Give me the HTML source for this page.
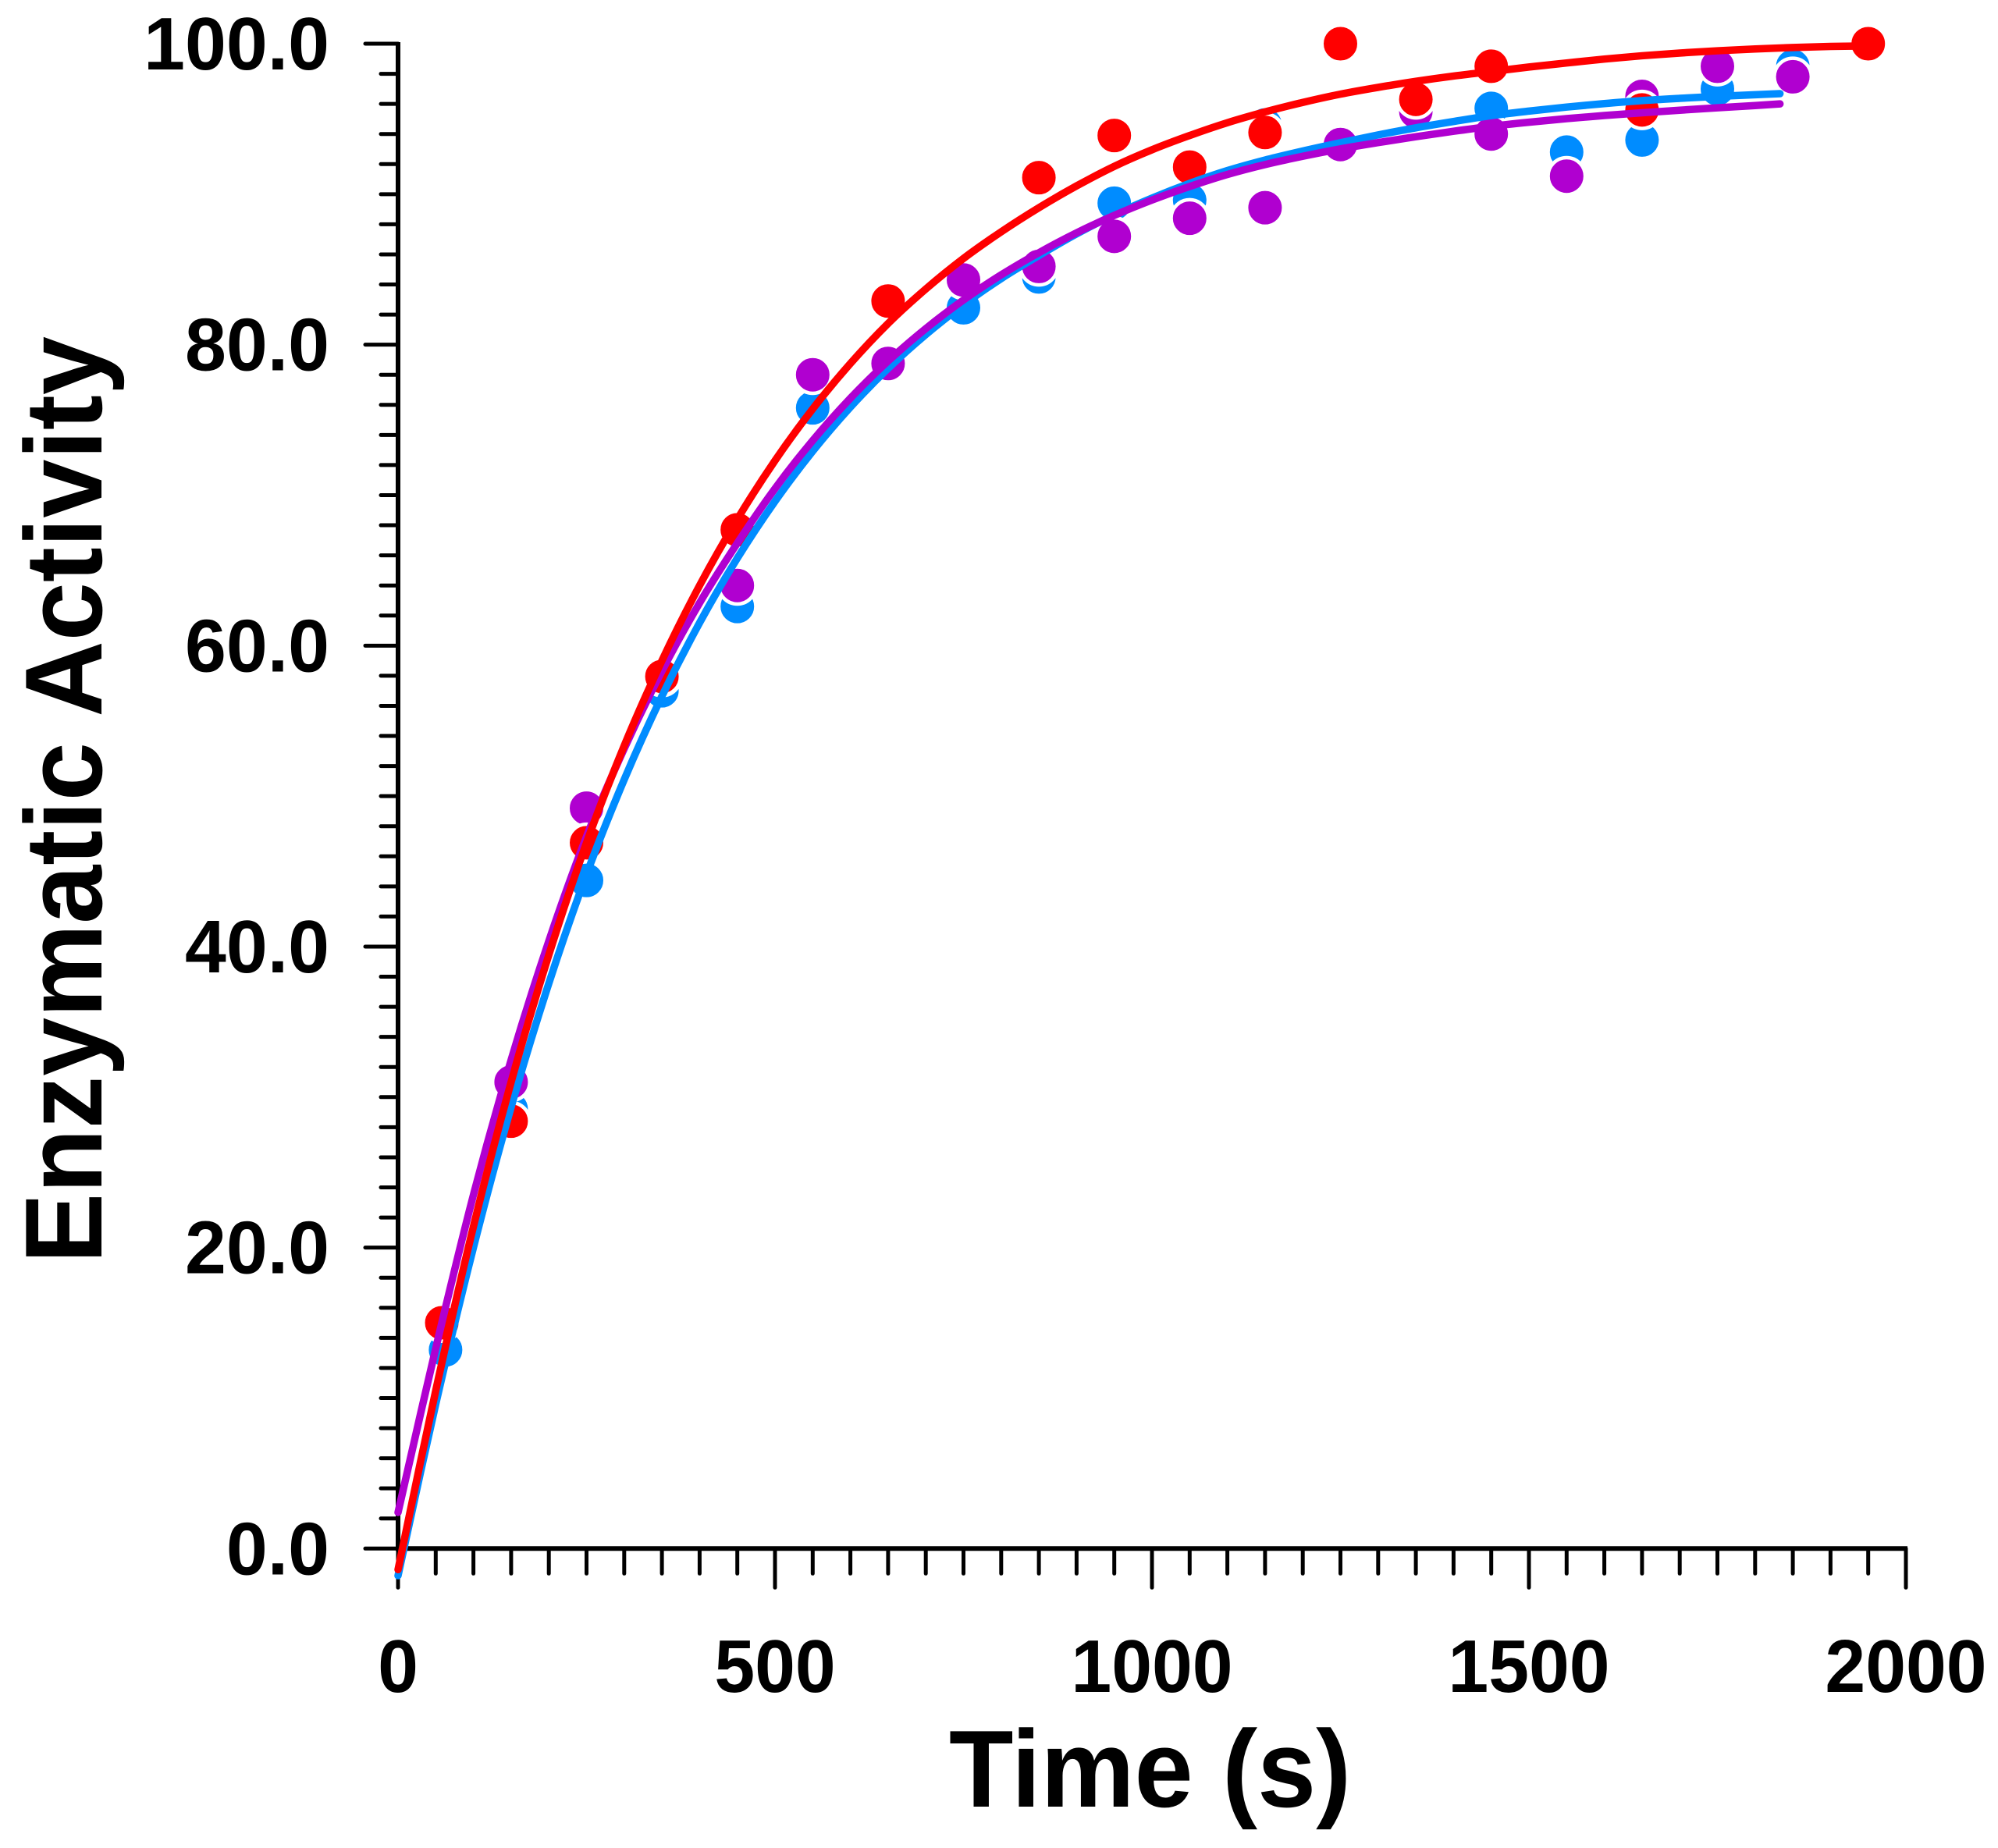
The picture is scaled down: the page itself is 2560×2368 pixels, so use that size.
<!DOCTYPE html>
<html lang="en">
<head>
<meta charset="utf-8">
<title>Enzymatic Activity vs Time</title>
<style>
html,body{margin:0;padding:0;background:#fff;width:2560px;height:2368px;overflow:hidden}
svg{display:block}
text{font-family:"Liberation Sans",Arial,sans-serif;font-weight:700;fill:#000}
</style>
</head>
<body>
<svg id="chart" xmlns="http://www.w3.org/2000/svg" width="2560" height="2368" viewBox="0 0 2560 2368">
  <rect x="0" y="0" width="2560" height="2368" fill="#fff"/>
  <g id="axes"></g>
  <g id="markers"></g>
  <g id="fits"></g>
  <text x="0" y="0" font-size="135" transform="translate(1216 2315) scale(1 1.04)">Time (s)</text>
  <text x="0" y="0" font-size="135" text-anchor="middle" transform="translate(130 1025) rotate(-90) scale(1 1.04)">Enzymatic Activity</text>
</svg>
<script>
var xTickLabels = [0, 500, 1000, 1500, 2000];
var yTickLabels = [0, 20, 40, 60, 80, 100];

var blueTimes = [63,150,250,350,450,550,650,750,850,950,1050,1150,1250,1350,1450,1550,1650,1750,1850];
var blueValues = [13.2,29.2,44.4,57.0,62.6,75.8,78.75,82.45,84.5,89.4,89.6,94.6,93.2,95.5,95.7,92.8,93.6,97.0,98.5];

var purpleTimes = [150,250,350,450,550,650,750,850,950,1050,1150,1250,1350,1450,1550,1650,1750,1850];
var purpleValues = [31.0,49.2,57.9,64.0,78.0,78.75,84.3,85.2,87.2,88.4,89.1,93.3,95.5,94.0,91.2,96.5,98.5,97.8];

var redTimes = [58,150,250,350,450,650,850,950,1050,1150,1250,1350,1450,1650,1950];
var redValues = [15.0,28.4,46.9,57.95,67.7,82.9,91.1,93.9,91.8,94.1,100,96.3,98.5,95.6,100];

var shortFitTimes = [0,50,100,150,200,250,300,350,400,450,500,550,600,650,700,750,800,850,900,950,1000,1050,1100,1150,1200,1250,1300,1350,1400,1450,1500,1550,1600,1650,1700,1750,1800,1833];
var longFitTimes = [0,50,100,150,200,250,300,350,400,450,500,550,600,650,700,750,800,850,900,950,1000,1050,1100,1150,1200,1250,1300,1350,1400,1450,1500,1550,1600,1650,1700,1750,1800,1850,1900,1950];

var blueFit = [-1.8,9.6,20.0,29.34,37.56,44.8,51.1,56.64,61.52,65.81,69.59,72.92,75.85,78.42,80.67,82.65,84.39,85.92,87.36,88.63,89.74,90.72,91.57,92.27,92.87,93.42,93.94,94.41,94.83,95.22,95.52,95.79,96.02,96.22,96.37,96.5,96.61,96.68];
var purpleFit = [2.4,13.3,23.5,32.47,40.37,47.31,53.16,58.31,62.84,66.81,70.44,73.63,76.44,78.91,81.07,82.97,84.64,86.11,87.43,88.59,89.61,90.51,91.31,91.97,92.52,93.01,93.43,93.82,94.18,94.51,94.78,95.02,95.23,95.41,95.58,95.74,95.89,96.0];
var redFit = [-1.4,10.5,21.4,31.0,39.45,46.9,53.35,59.0,64.0,68.4,72.3,75.73,78.75,81.41,83.7,85.73,87.5,89.1,90.55,91.85,92.95,93.9,94.75,95.47,96.1,96.65,97.1,97.5,97.85,98.15,98.45,98.72,98.98,99.2,99.38,99.53,99.65,99.75,99.82,99.85];

var NS = 'http://www.w3.org/2000/svg';
var BLUE = '#008cff', PURPLE = '#b000d0', RED = '#ff0000';

function xScale(t) { return 510 + t * (2442 - 510) / 2000; }
function yScale(v) { return 1984.3 - v * (1984.3 - 56) / 100; }

function make(tag, attrs, parent) {
  var el = document.createElementNS(NS, tag);
  for (var k in attrs) el.setAttribute(k, attrs[k]);
  parent.appendChild(el);
  return el;
}

var axes = document.getElementById('axes');
var line;

/* y axis minor and major ticks */
for (var yv = 0; yv <= 100; yv += 2) {
  var isMajorY = yv % 20 === 0;
  line = make('line', {x1: isMajorY ? 468 : 488, x2: 510, y1: yScale(yv), y2: yScale(yv), stroke: '#000', 'stroke-width': 5, 'stroke-linecap': 'round'}, axes);
  
  
}
/* x axis minor and major ticks */
for (var xv = 0; xv <= 2000; xv += 50) {
  var isMajorX = xv % 500 === 0;
  line = make('line', {x1: xScale(xv), x2: xScale(xv), y1: yScale(0), y2: yScale(0) + (isMajorX ? 50 : 32), stroke: '#000', 'stroke-width': 5, 'stroke-linecap': 'round'}, axes);
  
  
}
line = make('line', {x1: 510, x2: 510, y1: yScale(100) - 2, y2: yScale(0) + 3, stroke: '#000', 'stroke-width': 6}, axes);


line = make('line', {x1: 507, x2: xScale(2000) + 2, y1: yScale(0), y2: yScale(0), stroke: '#000', 'stroke-width': 6}, axes);



yTickLabels.forEach(function (v) {
  var t = make('text', {x: 0, y: 0, 'font-size': 96, 'text-anchor': 'end', transform: 'translate(422 ' + (yScale(v) + 33) + ') scale(0.99 1)'}, axes);
  t.textContent = v.toFixed(1);
  
  
});
xTickLabels.forEach(function (v) {
  var t = make('text', {x: 0, y: 0, 'font-size': 96, 'text-anchor': 'middle', transform: 'translate(' + xScale(v) + ' 2168) scale(0.97 1)'}, axes);
  t.textContent = String(v);
  
  
});

/* data markers: filled discs with a white ring, later series on top */
var markers = document.getElementById('markers');
function drawMarkers(times, values, color, name) {
  times.forEach(function (t, i) {
    var c = make('circle', {cx: xScale(t), cy: yScale(values[i]), r: 23.75, fill: color, stroke: '#fff', 'stroke-width': 4.5}, markers);
    
    
  });
}
drawMarkers(blueTimes, blueValues, BLUE, 'blue-point');
drawMarkers(purpleTimes, purpleValues, PURPLE, 'purple-point');
drawMarkers(redTimes, redValues, RED, 'red-point');

/* fit curves: smooth path through the values */
function smoothPath(times, values) {
  var p = times.map(function (t, i) { return [xScale(t), yScale(values[i])]; });
  var d = 'M' + p[0][0].toFixed(2) + ' ' + p[0][1].toFixed(2);
  for (var i = 0; i < p.length - 1; i++) {
    var a = p[Math.max(i - 1, 0)], b = p[i], c = p[i + 1], e = p[Math.min(i + 2, p.length - 1)];
    d += 'C' + (b[0] + (c[0] - a[0]) / 6).toFixed(2) + ' ' + (b[1] + (c[1] - a[1]) / 6).toFixed(2) + ' ' +
         (c[0] - (e[0] - b[0]) / 6).toFixed(2) + ' ' + (c[1] - (e[1] - b[1]) / 6).toFixed(2) + ' ' +
         c[0].toFixed(2) + ' ' + c[1].toFixed(2);
  }
  return d;
}
var fits = document.getElementById('fits');
var curve;
curve = make('path', {d: smoothPath(shortFitTimes, blueFit), fill: 'none', stroke: BLUE, 'stroke-width': 9.5, 'stroke-linecap': 'round', 'stroke-linejoin': 'round'}, fits);


curve = make('path', {d: smoothPath(shortFitTimes, purpleFit), fill: 'none', stroke: PURPLE, 'stroke-width': 9.5, 'stroke-linecap': 'round', 'stroke-linejoin': 'round'}, fits);


curve = make('path', {d: smoothPath(longFitTimes, redFit), fill: 'none', stroke: RED, 'stroke-width': 9.5, 'stroke-linecap': 'round', 'stroke-linejoin': 'round'}, fits);


</script>
</body>
</html>
